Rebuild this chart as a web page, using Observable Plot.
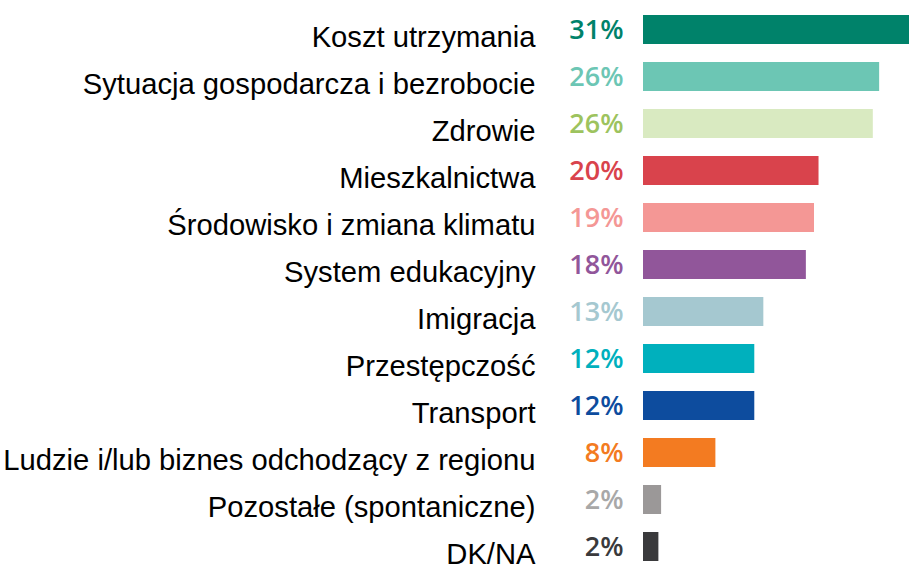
<!DOCTYPE html>
<html>
<head>
<meta charset="utf-8">
<script src="https://cdn.jsdelivr.net/npm/d3@7"></script>
<script src="https://cdn.jsdelivr.net/npm/@observablehq/plot@0.6"></script>
<style>
  html, body { margin: 0; padding: 0; background: #fff; overflow: hidden; }
  #chart svg { display: block; }
</style>
</head>
<body>
<div id="chart"></div>
<script>
const categories = [
  "Koszt utrzymania",
  "Sytuacja gospodarcza i bezrobocie",
  "Zdrowie",
  "Mieszkalnictwa",
  "Środowisko i zmiana klimatu",
  "System edukacyjny",
  "Imigracja",
  "Przestępczość",
  "Transport",
  "Ludzie i/lub biznes odchodzący z regionu",
  "Pozostałe (spontaniczne)",
  "DK/NA"
];
const values = [31, 26.1, 25.4, 19.4, 18.9, 18.0, 13.3, 12.3, 12.3, 8.0, 2.0, 1.7];
const valueLabels = ["31%", "26%", "26%", "20%", "19%", "18%", "13%", "12%", "12%", "8%", "2%", "2%"];

const barColors = ["#00826A", "#6CC6B4", "#D9EAC1", "#D9434C", "#F49795", "#91569A",
                   "#A5C8D0", "#00B0BD", "#0D4C9E", "#F37B21", "#9B9898", "#3A3A3C"];
const labelColors = ["#00826A", "#6CC6B4", "#9DC35E", "#D9434C", "#F49795", "#91569A",
                     "#A5C8D0", "#00B0BD", "#0D4C9E", "#F37B21", "#A8A8A8", "#3A3A3C"];

const rows = categories.map((c, i) => ({category: c, value: values[i], label: valueLabels[i], textColor: labelColors[i]}));

const chart = Plot.plot({
  width: 909,
  height: 569,
  marginLeft: 643,
  marginRight: 0,
  marginTop: 0,
  marginBottom: 0,
  x: {domain: [0, 29.4], axis: null},
  y: {domain: categories, range: [3, 574], paddingInner: 0.38, paddingOuter: 0.19, axis: null},
  color: {domain: categories, range: barColors},
  marks: [
    Plot.barX(rows, {y: "category", x: "value", fill: "category"}),
    Plot.text(rows, {
      y: "category", text: "label", frameAnchor: "left", dx: -20,
      textAnchor: "end", fill: "textColor",
      fontFamily: "Open Sans", fontWeight: 600, fontSize: 27
    }),
    Plot.text(rows, {
      y: "category", text: "category", frameAnchor: "left", dx: -108, dy: 8,
      textAnchor: "end", fill: "#000",
      fontFamily: "Liberation Sans", fontSize: 29.2
    })
  ]
});
document.getElementById("chart").appendChild(chart);
</script>
</body>
</html>
